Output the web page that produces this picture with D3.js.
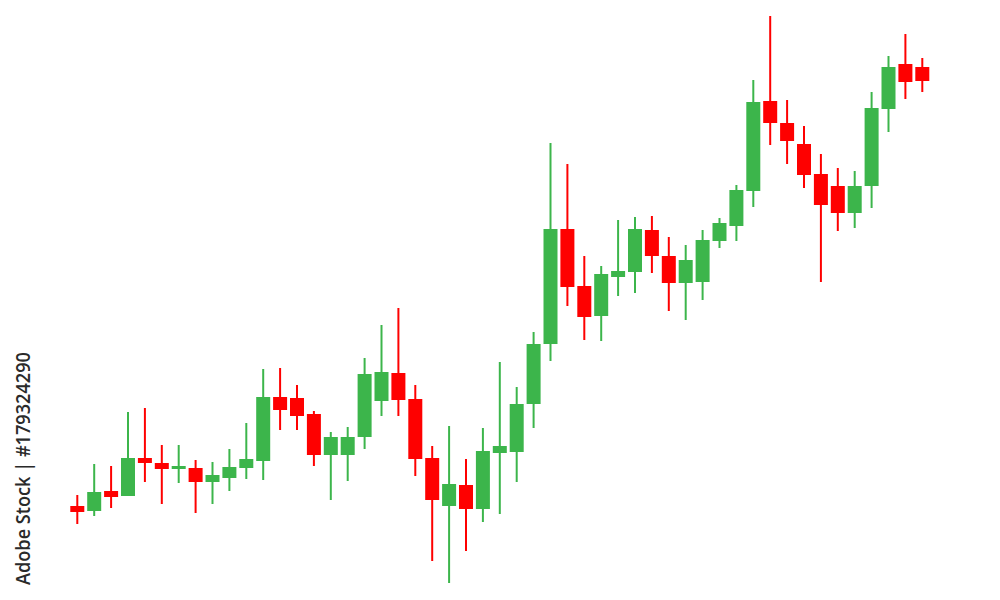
<!DOCTYPE html>
<html>
<head>
<meta charset="utf-8">
<script src="https://cdn.jsdelivr.net/npm/d3@7"></script>
<style>
  html, body { margin: 0; padding: 0; background: #fff; }
  svg { display: block; }
</style>
</head>
<body>
<svg id="chart" width="1000" height="600"></svg>
<script>
// ---- data (price units) ----
const sessions = d3.range(1, 52).map(i => "S" + i);
const openVals  = [94, 89, 109, 104, 142, 137, 131, 132, 118, 122, 132, 139, 203, 202, 186, 145, 145, 163, 199, 227, 201, 142, 94, 115, 91, 147, 148, 196, 256, 371, 314, 284, 323, 328, 370, 344, 317, 318, 359, 374, 409, 499, 477, 456, 426, 414, 387, 414, 491, 536, 533];
const highVals  = [105, 136, 134, 188, 192, 155, 155, 140, 138, 151, 177, 231, 232, 215, 189, 168, 173, 242, 275, 292, 215, 154, 174, 141, 172, 238, 213, 268, 457, 436, 344, 334, 380, 383, 384, 363, 355, 370, 382, 415, 520, 584, 500, 474, 446, 432, 429, 508, 544, 566, 542];
const lowVals   = [76, 84, 92, 104, 118, 96, 117, 87, 96, 109, 121, 120, 170, 170, 134, 100, 119, 151, 184, 184, 124, 39, 17, 49, 78, 86, 118, 172, 239, 294, 260, 259, 304, 307, 327, 289, 280, 300, 352, 359, 393, 455, 436, 412, 318, 369, 372, 392, 468, 501, 508];
const closeVals = [88, 108, 103, 142, 137, 131, 134, 118, 125, 133, 141, 203, 190, 184, 145, 163, 163, 226, 228, 200, 141, 100, 116, 91, 149, 154, 196, 256, 371, 313, 283, 326, 329, 371, 344, 317, 340, 360, 377, 410, 498, 477, 459, 425, 395, 387, 414, 492, 533, 518, 519];
const watermarkText = "Adobe Stock | #179324290";

const candles = sessions.map((s, i) => ({
  s, o: openVals[i], h: highVals[i], l: lowVals[i], c: closeVals[i]
}));

const svg = d3.select("#chart");
const x = d3.scalePoint().domain(sessions).range([77.3, 922.3]);
const y = d3.scaleLinear().domain([0, 600]).range([600, 0]);

const GREEN = "#3cb54b", RED = "#fe0000";
const bodyW = 14;

const g = svg.append("g");
const cg = g.selectAll("g.candle").data(candles).enter().append("g").attr("class", "candle");

cg.append("line")
  .attr("x1", d => x(d.s)).attr("x2", d => x(d.s))
  .attr("y1", d => y(d.h)).attr("y2", d => y(d.l))
  .attr("stroke", d => d.c >= d.o ? GREEN : RED)
  .attr("stroke-width", 2);

cg.append("rect")
  .attr("x", d => x(d.s) - bodyW / 2)
  .attr("width", bodyW)
  .attr("y", d => y(Math.max(d.o, d.c)))
  .attr("height", d => Math.max(2, Math.abs(y(d.o) - y(d.c))))
  .attr("fill", d => d.c >= d.o ? GREEN : RED);

// vertical credit text
svg.append("text")
  .attr("transform", "translate(30,585) rotate(-90)")
  .attr("font-family", "'Open Sans', 'DejaVu Sans', sans-serif")
  .attr("font-size", 19)
  .attr("font-weight", 600)
  .attr("fill", "#2a2a2a")
  .attr("textLength", 233)
  .attr("lengthAdjust", "spacingAndGlyphs")
  .text(watermarkText);
</script>
</body>
</html>
